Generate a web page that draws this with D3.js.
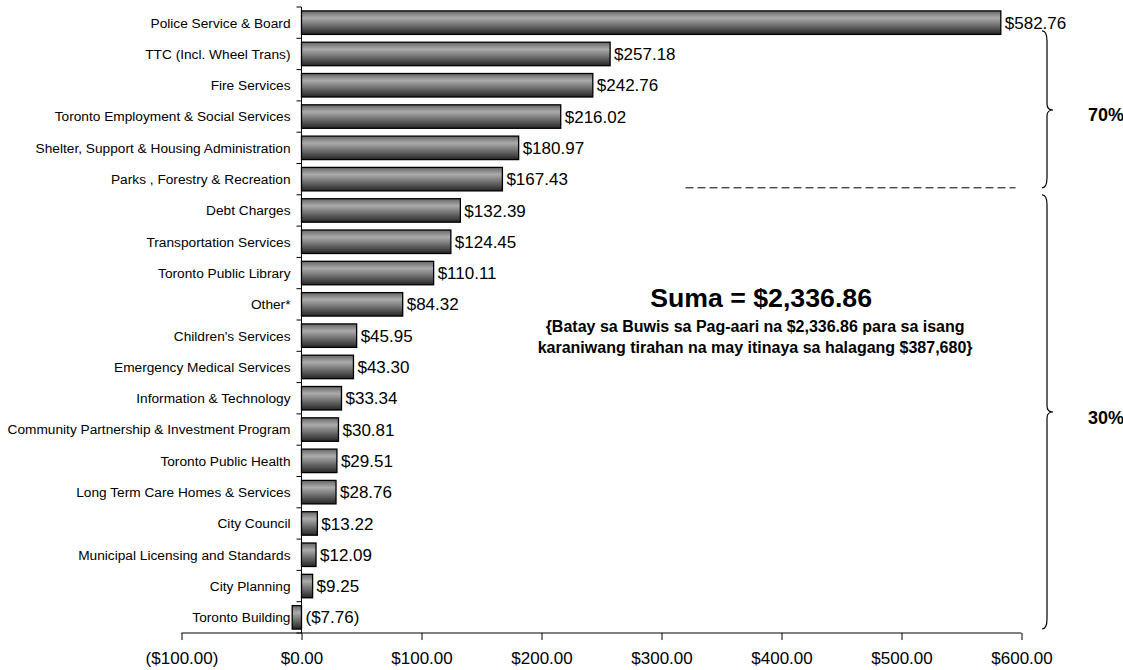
<!DOCTYPE html>
<meta charset="utf-8">
<script src="https://cdn.jsdelivr.net/npm/d3@7"></script>
<style>
body {margin: 0; background: #fff;}
svg {font-family: "Liberation Sans", Arial, sans-serif;}
.cat {font-size: 13.7px; fill: #000;}
.val {font-size: 17px; fill: #000;}
.xlab {font-size: 17px; fill: #000;}
</style>
<div id="vis"></div>
<script>
// categories and values (per household, $)
var categories = ["Police Service & Board", "TTC (Incl. Wheel Trans)", "Fire Services",
  "Toronto Employment & Social Services", "Shelter, Support & Housing Administration",
  "Parks , Forestry & Recreation", "Debt Charges", "Transportation Services",
  "Toronto Public Library", "Other*", "Children's Services", "Emergency Medical Services",
  "Information & Technology", "Community Partnership & Investment Program",
  "Toronto Public Health", "Long Term Care Homes & Services", "City Council",
  "Municipal Licensing and Standards", "City Planning", "Toronto Building"];
var values = [582.76, 257.18, 242.76, 216.02, 180.97, 167.43, 132.39, 124.45, 110.11, 84.32,
  45.95, 43.30, 33.34, 30.81, 29.51, 28.76, 13.22, 12.09, 9.25, -7.76];
var xTicks = [-100, 0, 100, 200, 300, 400, 500, 600];
var groupLabels = ["70%", "30%"];
var totalTitle = "Suma = $2,336.86";
var noteLines = ["{Batay sa Buwis sa Pag-aari na $2,336.86 para sa isang",
  "karaniwang tirahan na may itinaya sa halagang $387,680}"];

var width = 1123, height = 670;

var svg = d3.select("#vis").append("svg")
    .attr("width", width)
    .attr("height", height);

var x = d3.scaleLinear().domain([-100, 600]).range([181.5, 1021.5]);
var y = d3.scaleBand().domain(categories).range([7, 633])
    .paddingInner(0.25).paddingOuter(0.125);

// bar gradient
var grad = svg.append("defs").append("linearGradient")
    .attr("id", "barGrad").attr("x1", 0).attr("y1", 0).attr("x2", 0).attr("y2", 1);
grad.append("stop").attr("offset", "0%").attr("stop-color", "#666");
grad.append("stop").attr("offset", "30%").attr("stop-color", "#ababab");
grad.append("stop").attr("offset", "100%").attr("stop-color", "#262626");

var data = categories.map(function(c, i) { return {name: c, value: values[i]}; });

// bars
svg.selectAll("rect.bar")
  .data(data)
  .enter().append("rect")
    .attr("class", "bar")
    .attr("x", function(d) { return x(Math.min(0, d.value)); })
    .attr("y", function(d) { return y(d.name); })
    .attr("width", function(d) { return Math.abs(x(d.value) - x(0)); })
    .attr("height", y.bandwidth())
    .attr("fill", "url(#barGrad)")
    .attr("stroke", "#000")
    .attr("stroke-width", 1.3);

// value labels
function fmt(v) {
  var s = "$" + d3.format(",.2f")(Math.abs(v));
  return v < 0 ? "(" + s + ")" : s;
}
svg.selectAll("text.val")
  .data(data)
  .enter().append("text")
    .attr("class", "val")
    .attr("x", function(d) { return x(Math.max(0, d.value)) + 4; })
    .attr("y", function(d) { return y(d.name) + y.bandwidth() / 2; })
    .attr("dy", "0.36em")
    .text(function(d) { return fmt(d.value); });

// y axis: line, boundary ticks, labels
var yAxis = svg.append("g");
yAxis.append("line")
    .attr("x1", x(0)).attr("x2", x(0))
    .attr("y1", y.range()[0]).attr("y2", y.range()[1])
    .attr("stroke", "#000");
var bounds = categories.map(function(c) { return y(c) - y.step() * y.paddingInner() / 2; });
bounds.push(y.range()[1]);
yAxis.selectAll("line.tk")
  .data(bounds)
  .enter().append("line")
    .attr("class", "tk")
    .attr("x1", x(0) - 5).attr("x2", x(0))
    .attr("y1", function(d) { return d; }).attr("y2", function(d) { return d; })
    .attr("stroke", "#000");
yAxis.selectAll("text.cat")
  .data(categories)
  .enter().append("text")
    .attr("class", "cat")
    .attr("x", x(0) - 11)
    .attr("y", function(d) { return y(d) + y.bandwidth() / 2; })
    .attr("dy", "0.36em")
    .attr("text-anchor", "end")
    .text(function(d) { return d; });

// x axis
var xAxis = svg.append("g")
    .attr("transform", "translate(0," + y.range()[1] + ")")
    .call(d3.axisBottom(x).tickValues(xTicks).tickSize(7).tickPadding(12)
      .tickFormat(function(d) { return fmt(d); }));
xAxis.select(".domain").attr("stroke", "#000").attr("d", "M" + x(-100) + ",0H" + x(600));
xAxis.selectAll(".tick line").attr("stroke", "#000");
xAxis.selectAll(".tick text").attr("class", "xlab")
    .attr("font-family", null).attr("font-size", null);

// braces on the right
function brace(x0, y0, y1, ym) {
  var w = 5, t = 6;
  return "M" + x0 + "," + y0 +
    "Q" + (x0 + w) + "," + y0 + " " + (x0 + w) + "," + (y0 + 10) +
    "L" + (x0 + w) + "," + (ym - 6) +
    "Q" + (x0 + w) + "," + ym + " " + (x0 + w + t) + "," + ym +
    "Q" + (x0 + w) + "," + ym + " " + (x0 + w) + "," + (ym + 6) +
    "L" + (x0 + w) + "," + (y1 - 10) +
    "Q" + (x0 + w) + "," + y1 + " " + x0 + "," + y1;
}
var split = y("Debt Charges") - y.step() * y.paddingInner() / 2;
var braces = [
  {y0: y(categories[0]) + 20, y1: split - 7, ym: 110, label: groupLabels[0], ly: 115},
  {y0: split, y1: y.range()[1] - 4, ym: 412, label: groupLabels[1], ly: 418}
];
svg.selectAll("path.brace")
  .data(braces)
  .enter().append("path")
    .attr("class", "brace")
    .attr("d", function(d) { return brace(1042, d.y0, d.y1, d.ym); })
    .attr("fill", "none")
    .attr("stroke", "#000")
    .attr("stroke-width", 1.2);
svg.selectAll("text.pct")
  .data(braces)
  .enter().append("text")
    .attr("x", 1088)
    .attr("y", function(d) { return d.ly; })
    .attr("dy", "0.36em")
    .attr("font-size", "18px")
    .attr("font-weight", "bold")
    .text(function(d) { return d.label; });

// dashed divider
svg.append("line")
    .attr("x1", x(320)).attr("x2", x(595))
    .attr("y1", split - 7).attr("y2", split - 7)
    .attr("stroke", "#000")
    .attr("stroke-dasharray", "8,4");

// total annotation
svg.append("text")
    .attr("x", x(383)).attr("y", 297)
    .attr("dy", "0.36em")
    .attr("text-anchor", "middle")
    .attr("font-size", "26.7px")
    .attr("font-weight", "bold")
    .text(totalTitle);
svg.selectAll("text.note")
  .data(noteLines)
  .enter().append("text")
    .attr("x", x(378))
    .attr("y", function(d, i) { return 326 + i * 21; })
    .attr("dy", "0.36em")
    .attr("text-anchor", "middle")
    .attr("font-size", "16px")
    .attr("font-weight", "bold")
    .text(function(d) { return d; });
</script>
